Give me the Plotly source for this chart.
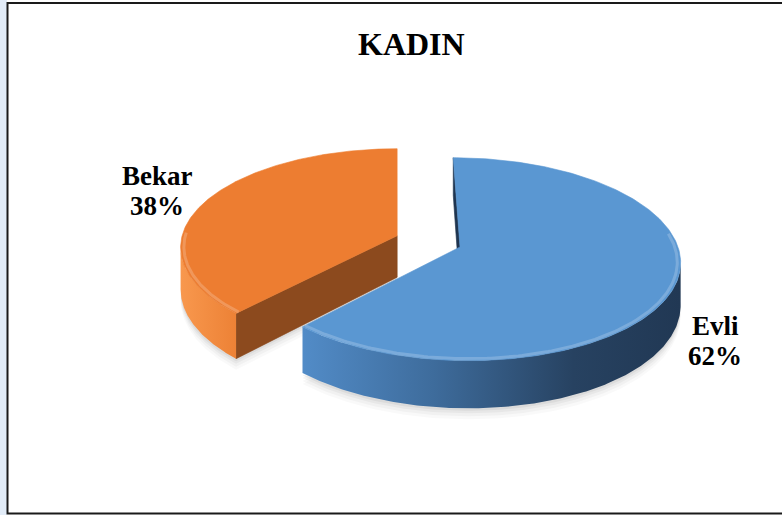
import numpy as np
import plotly.graph_objects as go

# Chart data
title_text = "KADIN"
labels = ["Evli", "Bekar"]
values = [62, 38]

# Drawing style (pixel space: x to the right, y downwards)
W, H = 782, 515
CX, CY = 460, 247          # centre of the pie's top face
RX, RY = 218, 100          # radii of the tilted disc
VX = 397                   # horizontal vanishing line
PERSP = 0.12               # perspective strength (far side smaller)
DEPTH = 42                 # thickness of the disc
EXPLODE = [0.0, 0.31]      # pull-out of each slice (fraction of radius)

top_colors = ["#5A97D2", "#ED7D31"]
cut_colors = ["#1F3550", "#8C4A1E"]
# outer wall gradients: (colour stops, x-start, x-stop)
wall_grad = [
    ([[0, "rgb(82,140,200)"], [0.35, "rgb(62,108,156)"],
      [0.72, "rgb(39,66,97)"], [1, "rgb(33,56,84)"]], 300, 680),
    ([[0, "rgb(248,152,78)"], [1, "rgb(236,128,52)"]], 180, 240),
]
label_pos = {"Evli": (715, 326), "Bekar": (157, 176)}


def proj(u, v, z=0.0):
    """Project a point of the unit disc (u right, v away, z down) to pixels."""
    s = 1.0 / (1.0 + PERSP * v)
    x = VX + (CX - VX + RX * u) * s
    y = CY - RY * v * s + DEPTH * z * s
    return x, y


def area(pts):
    a = 0.0
    for i in range(len(pts)):
        x1, y1 = pts[i]
        x2, y2 = pts[(i + 1) % len(pts)]
        a += x1 * y2 - x2 * y1
    return a / 2.0


fig = go.Figure()


def add_poly(pts, color, lw=0.6, gradient=None):
    xs = [p[0] for p in pts] + [pts[0][0]]
    ys = [p[1] for p in pts] + [pts[0][1]]
    kw = dict(fillcolor=color)
    if gradient is not None:
        kw = dict(fillgradient=gradient)
    fig.add_trace(go.Scatter(
        x=xs, y=ys, mode="lines", fill="toself",
        line=dict(color=color, width=lw),
        hoverinfo="skip", showlegend=False, **kw))


# Slice geometry from the values: clockwise from 12 o'clock
total = float(sum(values))
bounds = np.concatenate([[0.0], np.cumsum(values) / total]) * 2 * np.pi
slices = []
for i, (lab, val) in enumerate(zip(labels, values)):
    t0, t1 = bounds[i], bounds[i + 1]
    mid = 0.5 * (t0 + t1)
    ou, ov = EXPLODE[i] * np.sin(mid), EXPLODE[i] * np.cos(mid)
    slices.append(dict(i=i, t0=t0, t1=t1, ou=ou, ov=ov))

# Soft drop shadow under each slice (drawn first, mostly hidden)
for s in slices:
    ts = np.linspace(s["t0"], s["t1"], 200)
    base = [proj(s["ou"], s["ov"], 1.0)] + \
           [proj(s["ou"] + np.sin(t), s["ov"] + np.cos(t), 1.0) for t in ts]
    for drop, alpha in [(11, 0.025), (8, 0.03), (5, 0.04), (2.5, 0.05)]:
        add_poly([(x, y + drop) for x, y in base], "rgba(0,0,0,%.3f)" % alpha, lw=0)

# Paint the slices back to front: the pulled-out slice sits further back
order = sorted(slices, key=lambda s: -s["ov"])
for s in order:
    i, t0, t1, ou, ov = s["i"], s["t0"], s["t1"], s["ou"], s["ov"]

    def rim(t, z=0.0):
        return proj(ou + np.sin(t), ov + np.cos(t), z)

    apex_t = proj(ou, ov, 0.0)
    apex_b = proj(ou, ov, 1.0)

    # radial cut faces
    q0 = [apex_t, rim(t0), rim(t0, 1.0), apex_b]
    q1 = [rim(t1), apex_t, apex_b, rim(t1, 1.0)]
    for q in (q0, q1):
        if area(q) < -1.0:
            add_poly(q, cut_colors[i])

    # curved outer wall: only the part that faces the viewer
    th = np.linspace(t0, t1, 400)
    vis = [a for a, b in zip(th[:-1], th[1:])
           if area([rim(a), rim(b), rim(b, 1.0), rim(a, 1.0)]) < 0]
    if vis:
        ts = np.linspace(min(vis), min(max(vis) + (th[1] - th[0]), t1), 200)
        poly = [rim(t) for t in ts] + [rim(t, 1.0) for t in ts[::-1]]
        stops, gx0, gx1 = wall_grad[i]
        grad = dict(type="horizontal", start=gx0, stop=gx1, colorscale=stops)
        add_poly(poly, "rgba(0,0,0,0)", lw=0, gradient=grad)

    # top face
    th = np.linspace(t0, t1, 240)
    pts = [apex_t] + [rim(t) for t in th]
    add_poly(pts, top_colors[i])

    # bevel highlight along the front rim
    front = [t for t in th if np.cos(t) + ov < 0.15]
    if front:
        rx, ry = zip(*[proj(ou + np.sin(t) * 0.985, ov + np.cos(t) * 0.985) for t in front])
        fig.add_trace(go.Scatter(x=list(rx), y=list(ry), mode="lines",
                                 line=dict(color="rgba(255,255,255,0.2)", width=3),
                                 hoverinfo="skip", showlegend=False))

# Labels: category name and percentage
font = dict(family="Liberation Serif", size=27, color="black")
annotations = []
for lab, val in zip(labels, values):
    x, y = label_pos[lab]
    pct = round(100 * val / total)
    annotations.append(dict(x=x, y=y, xref="x", yref="y", text="<b>%s</b>" % lab,
                            showarrow=False, font=font, xanchor="center", yanchor="middle"))
    annotations.append(dict(x=x, y=y + 30, xref="x", yref="y", text="<b>%d%%</b>" % pct,
                            showarrow=False, font=font, xanchor="center", yanchor="middle"))
annotations.append(dict(x=411, y=44, xref="x", yref="y", text="<b>%s</b>" % title_text,
                        showarrow=False, xanchor="center", yanchor="middle",
                        font=dict(family="Liberation Serif", size=32, color="black")))

shapes = [
    dict(type="rect", xref="x", yref="y", x0=0, x1=7, y0=0, y1=H,
         fillcolor="#E2ECF8", line=dict(width=0), layer="below"),
    dict(type="rect", xref="x", yref="y", x0=7.5, x1=W + 20, y0=3, y1=513.5,
         fillcolor="rgba(0,0,0,0)", line=dict(color="#1A1A1A", width=2)),
]

fig.update_layout(
    width=W, height=H, margin=dict(l=0, r=0, t=0, b=0),
    paper_bgcolor="white", plot_bgcolor="white",
    xaxis=dict(range=[0, W], visible=False, fixedrange=True),
    yaxis=dict(range=[H, 0], visible=False, fixedrange=True),
    annotations=annotations, shapes=shapes, showlegend=False,
)

fig.write_html("out.html")
